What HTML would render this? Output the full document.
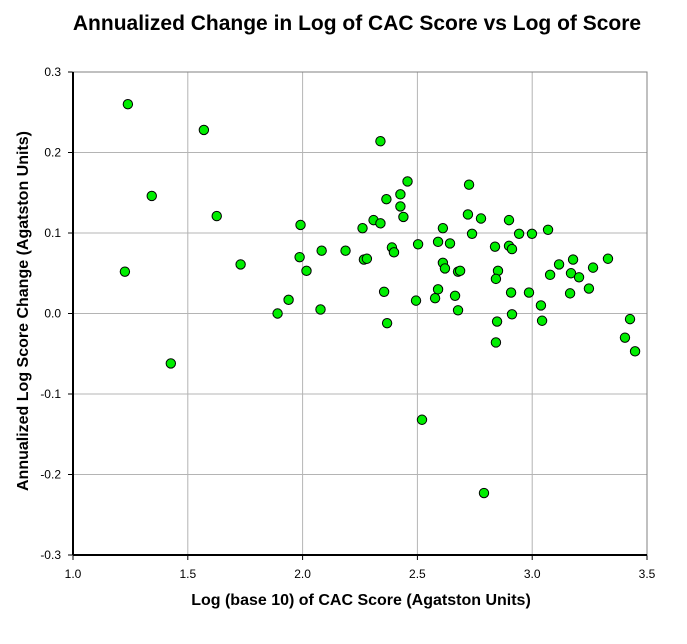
<!DOCTYPE html>
<html><head><meta charset="utf-8"><style>
body{margin:0;background:#fff;font-family:"Liberation Sans",Arial,sans-serif}
</style></head><body>
<svg id="chart" width="687" height="639" xmlns="http://www.w3.org/2000/svg">
<text x="357" y="30" text-anchor="middle" font-size="21" font-weight="bold">Annualized Change in Log of CAC Score vs Log of Score</text>
<text transform="translate(28,311) rotate(-90)" text-anchor="middle" font-size="16" font-weight="bold">Annualized Log Score Change (Agatston Units)</text>
<text x="361" y="605" text-anchor="middle" font-size="16" font-weight="bold">Log (base 10) of CAC Score (Agatston Units)</text>
<g id="grid"></g><g id="axes"></g><g id="points"></g>
</svg>
<script>
const xVals=[1.239,1.226,1.570,1.343,1.626,1.426,1.730,1.891,1.939,1.991,1.987,2.017,2.083,2.187,2.078,2.457,2.426,2.365,2.426,2.439,2.309,2.339,2.261,2.611,2.590,2.642,2.503,2.389,2.398,2.267,2.280,2.611,2.620,2.677,2.355,2.590,2.577,2.494,2.664,2.677,2.368,2.725,2.720,2.777,2.899,2.738,2.943,2.999,3.069,2.838,2.899,2.912,2.686,2.851,2.842,3.117,3.178,3.078,3.169,3.204,3.265,3.330,3.247,3.165,2.908,2.986,3.038,2.912,2.847,3.043,2.842,3.426,3.404,3.448,2.339,2.520,2.790];
const yVals=[0.260,0.052,0.228,0.146,0.121,-0.062,0.061,0.000,0.017,0.110,0.070,0.053,0.078,0.078,0.005,0.164,0.148,0.142,0.133,0.120,0.116,0.112,0.106,0.106,0.089,0.087,0.086,0.082,0.076,0.067,0.068,0.063,0.056,0.052,0.027,0.030,0.019,0.016,0.022,0.004,-0.012,0.160,0.123,0.118,0.116,0.099,0.099,0.099,0.104,0.083,0.084,0.080,0.053,0.053,0.043,0.061,0.067,0.048,0.050,0.045,0.057,0.068,0.031,0.025,0.026,0.026,0.010,-0.001,-0.010,-0.009,-0.036,-0.007,-0.030,-0.047,0.214,-0.132,-0.223];
const xTicks=["1.0","1.5","2.0","2.5","3.0","3.5"];
const yTicks=["0.3","0.2","0.1","0.0","-0.1","-0.2","-0.3"];
const NS="http://www.w3.org/2000/svg";
const L=73,R=647,T=72,B=555;
const sx=v=>L+(v-1.0)/2.5*(R-L);
const sy=v=>T+(0.3-v)/0.6*(B-T);
function mk(tag,attrs,parent){const e=document.createElementNS(NS,tag);for(const k in attrs)e.setAttribute(k,attrs[k]);parent.appendChild(e);return e;}
const grid=document.getElementById('grid'),axes=document.getElementById('axes'),pts=document.getElementById('points');
xTicks.forEach(t=>{const x=sx(parseFloat(t));
 const g=mk('line',{x1:x,x2:x,y1:T,y2:B,stroke:'#b4b4b4','stroke-width':1},grid);
 
 
 const tk=mk('line',{x1:x,x2:x,y1:B,y2:B+5,stroke:'#000'},axes);
 
 
 const lb=mk('text',{x:x,y:B+23,'text-anchor':'middle','font-size':12},axes);lb.textContent=t;
 
 
});
yTicks.forEach(t=>{const y=sy(parseFloat(t));
 const g=mk('line',{x1:L,x2:R,y1:y,y2:y,stroke:'#b4b4b4','stroke-width':1},grid);
 
 
 const tk=mk('line',{x1:L-5,x2:L,y1:y,y2:y,stroke:'#000'},axes);
 
 
 const lb=mk('text',{x:L-12,y:y+4,'text-anchor':'end','font-size':12},axes);lb.textContent=t;
 
 
});
const fr=mk('rect',{x:L,y:T,width:R-L,height:B-T,fill:'none',stroke:'#808080','stroke-width':1},axes);


const ya=mk('line',{x1:L,x2:L,y1:T,y2:B,stroke:'#000','stroke-width':2},axes);


const xa=mk('line',{x1:L,x2:R,y1:B,y2:B,stroke:'#000','stroke-width':2},axes);


xVals.forEach((v,i)=>{
 const c=mk('circle',{cx:sx(v),cy:sy(yVals[i]),r:4.7,fill:'#00ee00',stroke:'#000','stroke-width':1},pts);
 
 
});
</script>
</body></html>
